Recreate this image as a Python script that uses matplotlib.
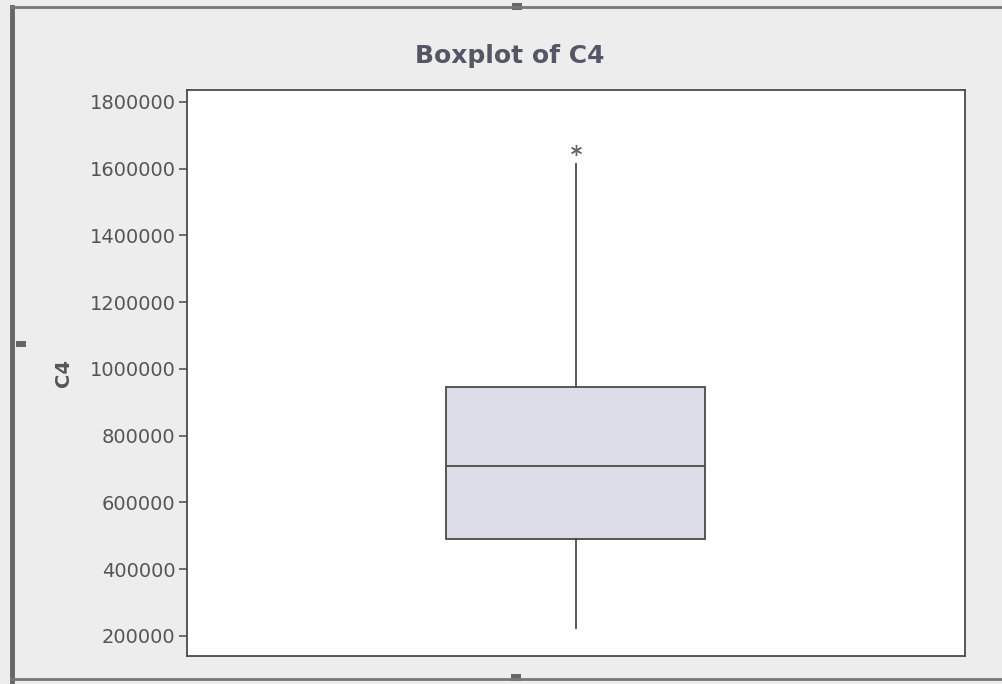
import matplotlib.pyplot as plt
from matplotlib.lines import Line2D
from matplotlib.patches import Rectangle

# summary of column C4
q1 = 490000
median = 710000
q3 = 945000
whisker_low = 225000
whisker_high = 1615000
outliers = [1655000]

yticks = [200000, 400000, 600000, 800000, 1000000, 1200000, 1400000, 1600000, 1800000]

stats = [dict(med=median, q1=q1, q3=q3, whislo=whisker_low, whishi=whisker_high,
              fliers=outliers, label="")]

fig = plt.figure(figsize=(10.03, 6.84), dpi=100)
fig.patch.set_facecolor("#ededed")

ax = fig.add_axes([0.186, 0.041, 0.776, 0.827])
ax.set_facecolor("white")

ax.bxp(stats, positions=[1], widths=0.333, patch_artist=True, showcaps=False,
       boxprops=dict(facecolor="#dcdce8", edgecolor="#4a4a4a", linewidth=1.3),
       medianprops=dict(color="#4a4a4a", linewidth=1.3),
       whiskerprops=dict(color="#4a4a4a", linewidth=1.3),
       flierprops=dict(marker=(6, 2, 0), markersize=8, markerfacecolor="#666666",
                       markeredgecolor="#666666", markeredgewidth=1.0,
                       linestyle="none"))

ax.set_xlim(0.5, 1.5)
ax.set_ylim(140000, 1835000)
ax.set_xticks([])
ax.set_yticks(yticks)
ax.set_yticklabels([str(t) for t in yticks])
ax.tick_params(axis="y", direction="out", length=6, width=1.1, color="#4a4a4a",
               labelsize=14, labelcolor="#555555", pad=2)
for s in ax.spines.values():
    s.set_color("#4a4a4a")
    s.set_linewidth(1.3)

ax.set_ylabel("C4", fontsize=14, color="#555555", fontweight="bold", labelpad=12)
fig.text(0.508, 0.918, "Boxplot of C4", ha="center", va="center", fontsize=18,
         fontweight="bold", color="#555566")

# window frame around the graph
fig.add_artist(Line2D([0.012, 0.012], [0.0, 0.99], transform=fig.transFigure,
                      color="#666666", linewidth=3.5))
fig.add_artist(Line2D([0.012, 1.0], [0.99, 0.99], transform=fig.transFigure,
                      color="#777777", linewidth=2))
fig.add_artist(Line2D([0.012, 1.0], [0.007, 0.007], transform=fig.transFigure,
                      color="#777777", linewidth=2))
for x, y in [(0.510, 0.986), (0.016, 0.492), (0.509, 0.004)]:
    fig.add_artist(Rectangle((x, y), 0.01, 0.01, transform=fig.transFigure,
                             facecolor="#666666", edgecolor="none"))

fig.savefig("out.png", dpi=100)
